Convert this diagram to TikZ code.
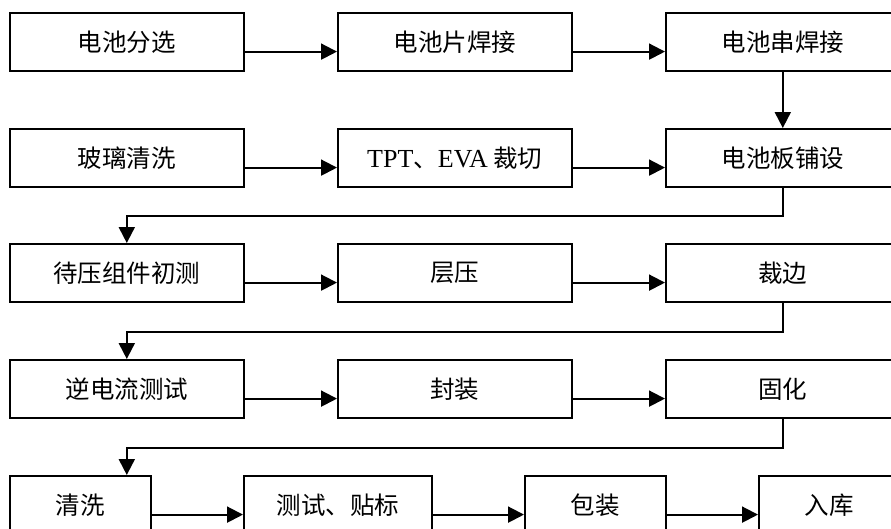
\documentclass[tikz,border=0pt]{standalone}
\usepackage{fontspec}
\setmainfont{Liberation Serif}
\newfontfamily\cjk{Noto Sans CJK SC}
\usetikzlibrary{arrows.meta}
\tikzset{
  box/.style={draw, line width=1.6pt, anchor=north west, minimum height=58pt, inner sep=0pt, font=\fontsize{24.5}{28}\selectfont\cjk},
  wbox/.style={box, minimum width=234pt},
  nbox/.style={box, minimum width=141pt},
  mbox/.style={box, minimum width=188pt},
  conn/.style={line width=2pt, -{Triangle[length=16pt,width=16pt]}}
}
\begin{document}
\begin{tikzpicture}[x=1pt,y=-1pt]
\useasboundingbox (0,0) rectangle (891,528);
\clip (0,0) rectangle (891,528);
% row 1
\node[wbox] (a1) at (9,12) {电池分选};
\node[wbox] (a2) at (337,12) {电池片焊接};
\node[wbox] (a3) at (665,12) {电池串焊接};
% row 2
\node[wbox] (b1) at (9,128) {玻璃清洗};
\node[wbox] (b2) at (337,128) {{\rmfamily\fontsize{26}{28}\selectfont TPT}、{\rmfamily\fontsize{26}{28}\selectfont EVA} 裁切};
\node[wbox] (b3) at (665,128) {电池板铺设};
% row 3
\node[wbox] (c1) at (9,243) {待压组件初测};
\node[wbox] (c2) at (337,243) {层压};
\node[wbox] (c3) at (665,243) {裁边};
% row 4
\node[wbox] (d1) at (9,359) {逆电流测试};
\node[wbox] (d2) at (337,359) {封装};
\node[wbox] (d3) at (665,359) {固化};
% row 5
\node[nbox] (e1) at (9,475) {清洗};
\node[mbox] (e2) at (243,475) {测试、贴标};
\node[nbox] (e3) at (524,475) {包装};
\node[nbox] (e4) at (758,475) {入库};
% connectors
\draw[conn] ([yshift=20pt]a1.south east) -- ([yshift=20pt]a2.south west);
\draw[conn] ([yshift=20pt]a2.south east) -- ([yshift=20pt]a3.south west);
\draw[conn] (a3.south) -- (b3.north);
\draw[conn] ([yshift=20pt]b1.south east) -- ([yshift=20pt]b2.south west);
\draw[conn] ([yshift=20pt]b2.south east) -- ([yshift=20pt]b3.south west);
\draw[conn] (b3.south) -- ++(0,28.5) -| (c1.north);
\draw[conn] ([yshift=20pt]c1.south east) -- ([yshift=20pt]c2.south west);
\draw[conn] ([yshift=20pt]c2.south east) -- ([yshift=20pt]c3.south west);
\draw[conn] (c3.south) -- ++(0,29) -| (d1.north);
\draw[conn] ([yshift=20pt]d1.south east) -- ([yshift=20pt]d2.south west);
\draw[conn] ([yshift=20pt]d2.south east) -- ([yshift=20pt]d3.south west);
\draw[conn] (d3.south) -- ++(0,29) -| (d1.north |- e1.north);
\draw[conn] ([yshift=20pt]e1.south east) -- ([yshift=20pt]e2.south west);
\draw[conn] ([yshift=20pt]e2.south east) -- ([yshift=20pt]e3.south west);
\draw[conn] ([yshift=20pt]e3.south east) -- ([yshift=20pt]e4.south west);
\end{tikzpicture}
\end{document}
